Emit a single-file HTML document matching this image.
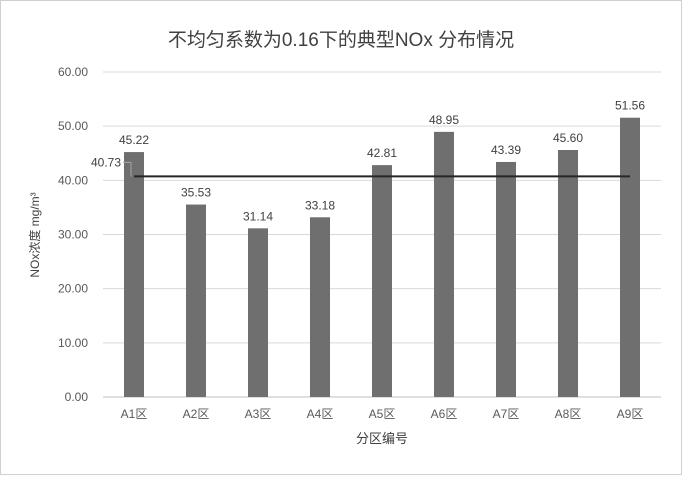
<!DOCTYPE html>
<html><head><meta charset="utf-8"><style>
body{margin:0;background:#fff;}
svg text{font-family:"Liberation Sans","Noto Sans CJK SC",sans-serif;}
</style></head><body>
<svg id="chart" width="682" height="475" xmlns="http://www.w3.org/2000/svg">
<rect x="0.5" y="0.5" width="681" height="474" fill="#fff" stroke="#d0d0d0"/>
<text x="341" y="46" text-anchor="middle" font-size="19" fill="#404040">不均匀系数为0.16下的典型NOx 分布情况</text>
<text transform="translate(39,235) rotate(-90)" text-anchor="middle" font-size="12" fill="#404040">NOx浓度 mg/m³</text>
<text x="382" y="443" text-anchor="middle" font-size="13" fill="#404040">分区编号</text>
<g id="grid"></g><g id="bars"></g><g id="labels"></g>
</svg>
<script>
const categories=["A1区","A2区","A3区","A4区","A5区","A6区","A7区","A8区","A9区"];
const values=[45.22,35.53,31.14,33.18,42.81,48.95,43.39,45.60,51.56];
const avgValue=40.73;
const yTicks=[0,10,20,30,40,50,60];
const NS="http://www.w3.org/2000/svg";
const svg=document.getElementById('chart');
const x0=103,x1=661,yTop=72,yBot=397,yMax=60;
const bw=(x1-x0)/categories.length;
function y(v){return yBot-(v/yMax)*(yBot-yTop);}
function xc(i){return x0+bw*(i+0.5);}
function mk(tag,attrs,parent){const e=document.createElementNS(NS,tag);for(const k in attrs)e.setAttribute(k,attrs[k]);(parent||svg).appendChild(e);return e;}
const grid=document.getElementById('grid'),bars=document.getElementById('bars'),labels=document.getElementById('labels');
yTicks.forEach(t=>{
  const l=mk('line',{x1:x0,x2:x1,y1:y(t),y2:y(t),stroke:t===0?'#bfbfbf':'#d9d9d9','stroke-width':1},grid);
  
  
  const tx=mk('text',{x:88,y:y(t)+4,'text-anchor':'end','font-size':12,fill:'#595959'},grid);
  tx.textContent=t.toFixed(2);
  
  
});
categories.forEach((c,i)=>{
  const r=mk('rect',{x:xc(i)-10,y:y(values[i]),width:20,height:yBot-y(values[i]),fill:'#6f6f6f'},bars);
  
  
  const v=mk('text',{x:xc(i),y:y(values[i])-8,'text-anchor':'middle','font-size':12,fill:'#404040'},labels);
  v.textContent=values[i].toFixed(2);
  
  
  const cl=mk('text',{x:xc(i),y:418,'text-anchor':'middle','font-size':12,fill:'#595959'},labels);
  cl.textContent=c;
  
  
});
const al=mk('line',{x1:xc(0),x2:xc(categories.length-1),y1:y(avgValue),y2:y(avgValue),stroke:'#262626','stroke-width':2});


const ld=mk('polyline',{points:`123,${y(avgValue)-14} 131,${y(avgValue)-14} 131,${y(avgValue)}`,fill:'none',stroke:'#a6a6a6','stroke-width':1});


const at=mk('text',{x:121,y:y(avgValue)-10,'text-anchor':'end','font-size':12,fill:'#404040'});
at.textContent=avgValue.toFixed(2);


</script>
</body></html>
